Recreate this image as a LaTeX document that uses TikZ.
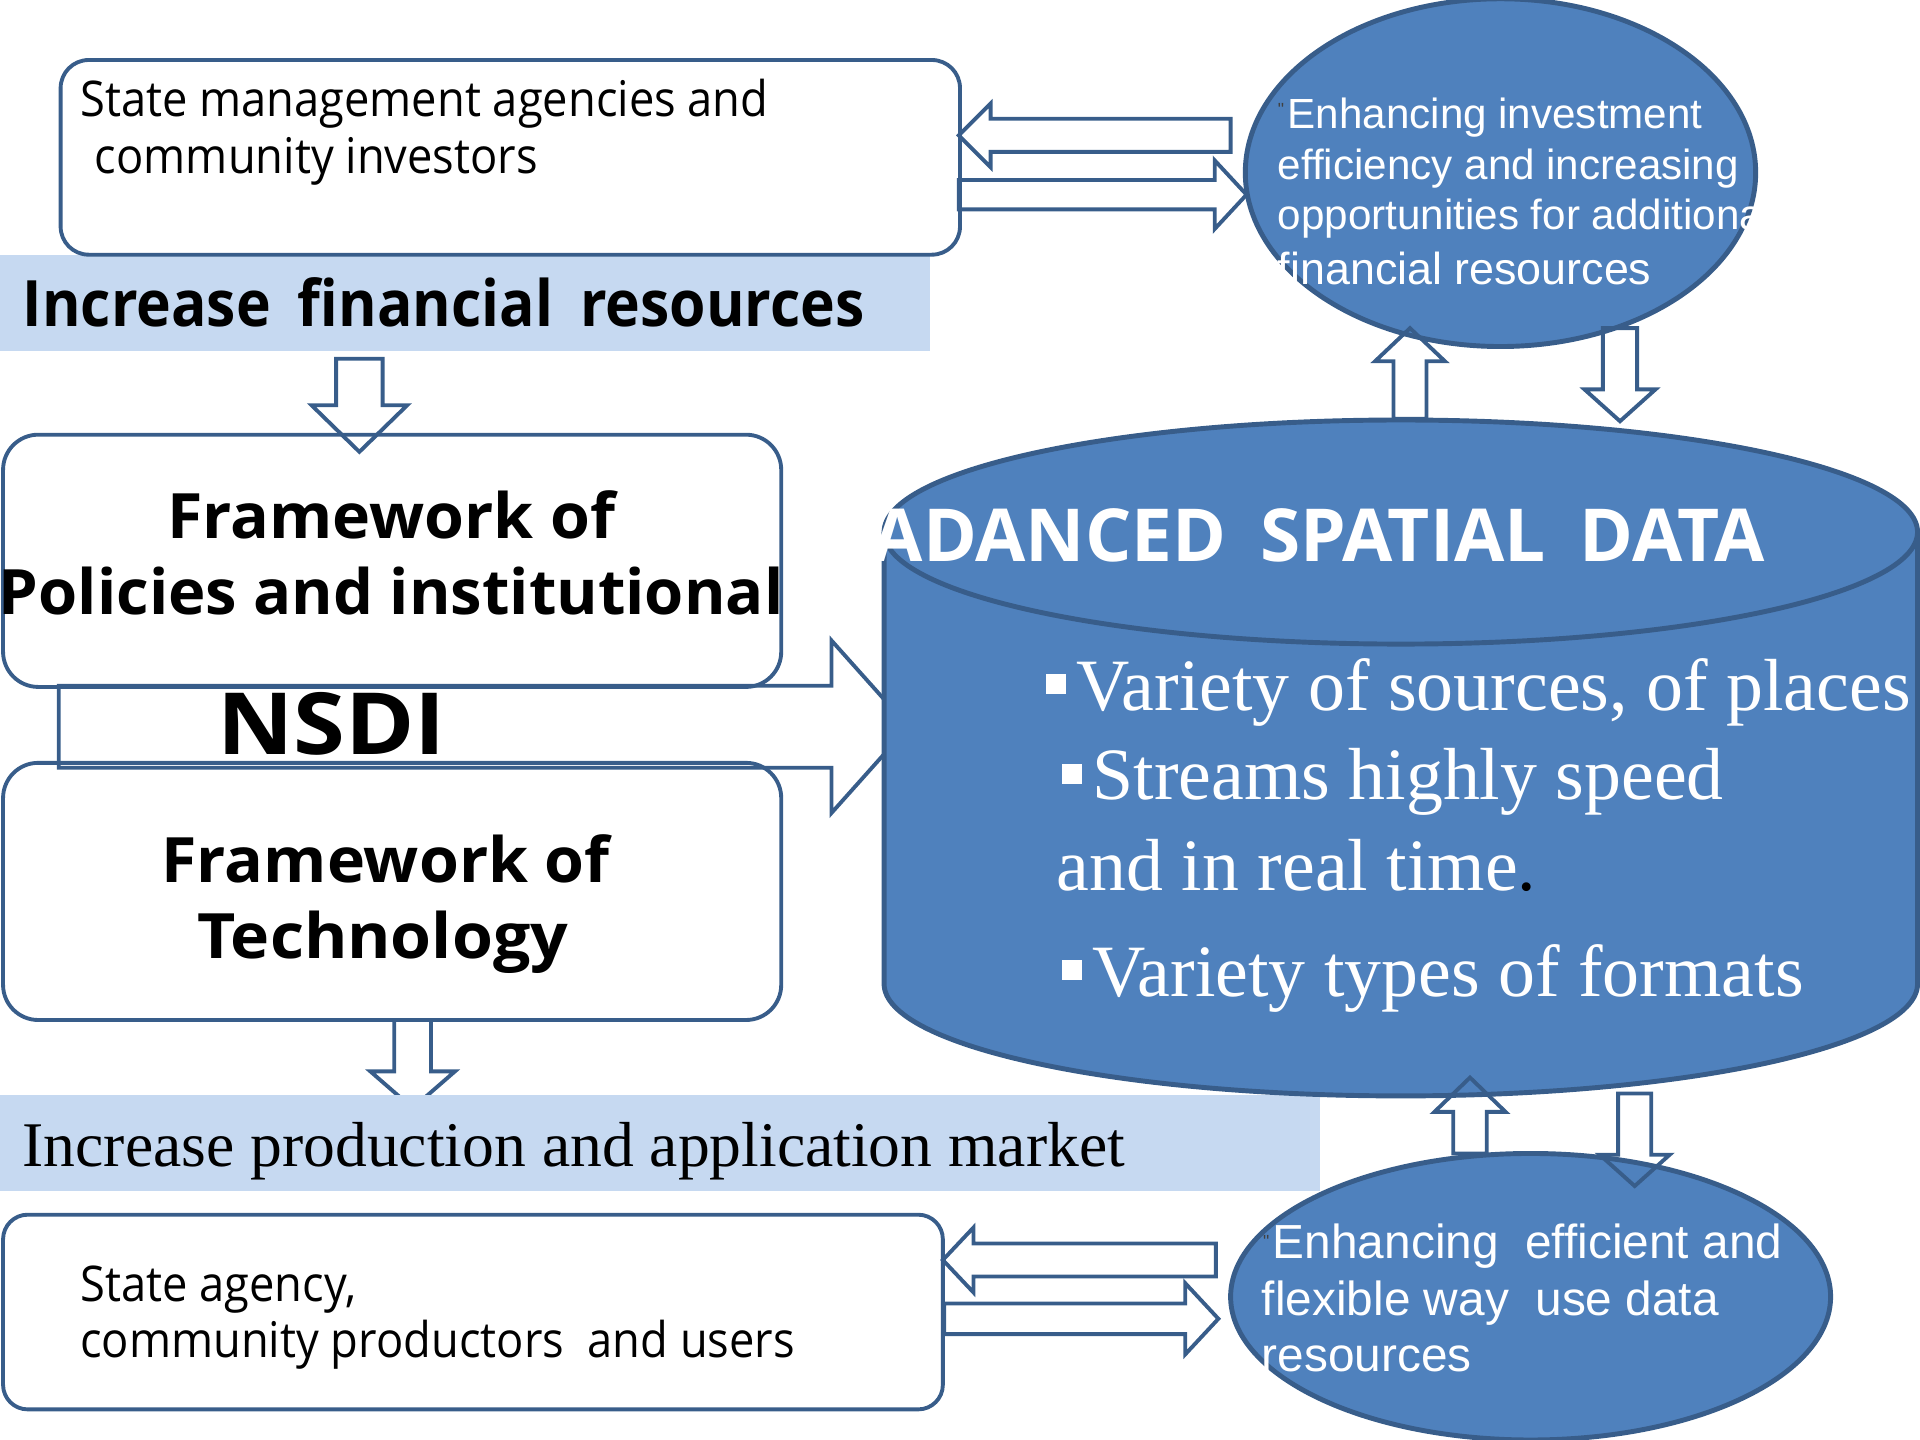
\documentclass[tikz,border=0pt]{standalone}
\usepackage{graphicx}
\usepackage{fontspec}
\setmainfont{Liberation Serif}
\newfontfamily\gothicfont[FakeStretch=0.92]{Open Sans}
\newfontfamily\arialfont{Liberation Sans}
\usetikzlibrary{calc,fit,shapes.geometric}

\definecolor{shapeblue}{HTML}{4F81BD}
\definecolor{edgeblue}{HTML}{385D8A}
\definecolor{bandblue}{HTML}{C6D9F1}

\def\upx{0.348401pt}
% hollow block arrow: tail, tip, half shaft, half head, head length
\newcommand{\blockarrow}[5]{%
  \path ($(#2)!#5*\upx!(#1)$) coordinate (hb);
  \draw[barrow] ($(#1)!#3*\upx!90:(#2)$) -- ($(hb)!#3*\upx!90:(#2)$)
    -- ($(hb)!#4*\upx!90:(#2)$) -- (#2) -- ($(hb)!#4*\upx!-90:(#2)$)
    -- ($(hb)!#3*\upx!-90:(#2)$) -- ($(#1)!#3*\upx!-90:(#2)$) -- cycle;}
\newcommand{\sqbullet}{\rule[4.5pt]{5.7pt}{5.7pt}\hspace{2.9pt}}
\newcommand{\widen}[2]{\scalebox{#1}[1]{#2}}

\begin{document}
\begin{tikzpicture}[x=\upx,y=-\upx,
    box/.style={draw=edgeblue,line width=1.1pt,fill=white,rounded corners=#1,inner sep=0pt},
    box/.default=8pt,
    band/.style={fill=bandblue,inner sep=0pt},
    ell/.style={ellipse,draw=edgeblue,fill=shapeblue,line width=1.4pt,inner sep=0pt},
    cyl/.style={draw=edgeblue,fill=shapeblue,line width=1.4pt},
    barrow/.style={draw=edgeblue,line width=1.1pt,line join=miter},
    txt/.style={inner sep=0pt,anchor=base west},
    plain/.style={txt,font=\gothicfont\fontsize{14}{17}\selectfont},
    bigbold/.style={txt,font=\gothicfont\bfseries\fontsize{18.2}{22}\selectfont},
    framehead/.style={inner sep=0pt,anchor=base,font=\gothicfont\bfseries\fontsize{17.8}{21}\selectfont},
    ovaltext/.style={txt,text=white,font=\arialfont\fontsize{12}{14}\selectfont},
    usetext/.style={ovaltext,font=\arialfont\fontsize{13.6}{16}\selectfont},
    datatext/.style={txt,text=white,font=\fontsize{21}{25}\selectfont},
    quotemark/.style={txt,text=black!75,font=\arialfont\fontsize{5}{5}\selectfont}]

  \useasboundingbox (0,0) rectangle (1568,1176);

  % left column
  \node[band, fit={(0,208) (759.5,287)}] (finband) {};
  \node[box=8pt, fit={(49.5,49) (784,208)}] (agencies) {};
  \node[box=10pt, fit={(2.5,355) (638,561)}] (policies) {};
  \node[box=10pt, fit={(2.5,623) (638,833)}] (technology) {};

  \coordinate (fin-out) at (293.5,293);
  \coordinate (pol-in)  at (293.5,369);
  \blockarrow{fin-out}{pol-in}{19}{39}{38}
  \coordinate (nsdi-tail) at (48,593.5);
  \coordinate (nsdi-tip)  at (742,593.5);
  \blockarrow{nsdi-tail}{nsdi-tip}{33.5}{70.5}{63}
  \coordinate (tech-out) at (337,833);
  \coordinate (mkt-in)   at (337,905);
  \blockarrow{tech-out}{mkt-in}{15}{34.5}{30}

  \node[band, fit={(0,894) (1078,973)}] (mktband) {};
  \node[box=7pt, fit={(2.5,992) (770,1151)}] (users) {};

  % spatial data store
  \draw[cyl] (722,434.5) -- (722,803.5)
    arc[start angle=180,end angle=0,x radius=422,y radius=91.5] -- (1566,434.5);
  \draw[cyl] (1144,434.5) ellipse [x radius=422,y radius=91.5];

  \node[ell, minimum width=416.8*\upx, minimum height=284*\upx] (invest) at (1225.4,141) {};
  \node[ell, minimum width=490*\upx, minimum height=234*\upx] (useway) at (1250,1059) {};

  \coordinate (inv-w1) at (1005,110.5);
  \coordinate (ag-e1)  at (783,110.5);
  \blockarrow{inv-w1}{ag-e1}{13.5}{26}{26}
  \coordinate (ag-e2)  at (783,159);
  \coordinate (inv-w2) at (1018,159);
  \blockarrow{ag-e2}{inv-w2}{12}{28}{26}
  \coordinate (cyl-n1) at (1151.5,342);
  \coordinate (inv-s1) at (1151.5,268);
  \blockarrow{cyl-n1}{inv-s1}{13.5}{28.5}{27}
  \coordinate (inv-s2) at (1323,268);
  \coordinate (cyl-n2) at (1323,344);
  \blockarrow{inv-s2}{cyl-n2}{14}{29}{26}
  \coordinate (use-n1) at (1200.5,942);
  \coordinate (cyl-s1) at (1200.5,880);
  \blockarrow{use-n1}{cyl-s1}{13.7}{29}{28}
  \coordinate (cyl-s2) at (1335,893);
  \coordinate (use-n2) at (1335,968.6);
  \blockarrow{cyl-s2}{use-n2}{13.5}{28.6}{25.6}
  \coordinate (use-w1) at (993,1029);
  \coordinate (us-e1)  at (770,1029);
  \blockarrow{use-w1}{us-e1}{13.5}{26.5}{25}
  \coordinate (us-e2)  at (771,1077);
  \coordinate (use-w2) at (995,1077);
  \blockarrow{us-e2}{use-w2}{12.5}{29}{27}

  % labels
  \node[plain] (agencies-1) at (65,95.3) {State management agencies and};
  \node[plain] (agencies-2) at (77,141.5) {community investors};
  \node[bigbold] (finband-t) at (18,266.8) {Increase\hspace{0.42em}financial\hspace{0.42em}resources};
  \node[framehead] (policies-1) at (319.5,439.5) {\widen{1.12}{Framework of}};
  \node[framehead] (policies-2) at (319.5,501.5) {\widen{1.1}{Policies and institutional}};
  \node[txt,font=\gothicfont\bfseries\fontsize{24.4}{28}\selectfont] (nsdi) at (177,615.9) {\widen{1.19}{NSDI}};
  \node[framehead] (technology-1) at (315,721) {\widen{1.12}{Framework of}};
  \node[framehead] (technology-2) at (312.5,783) {\widen{1.15}{Technology}};
  \node[txt,font=\fontsize{18.1}{21}\selectfont] (mktband-t) at (18,952.8) {Increase production and application market};
  \node[plain] (users-1) at (65,1063) {State agency,};
  \node[plain] (users-2) at (65,1109) {community productors~~and users};

  \node[quotemark] (invest-q) at (1043,94) {"};
  \node[ovaltext] (invest-1) at (1051,104.8) {Enhancing investment};
  \node[ovaltext] (invest-2) at (1043,147) {efficiency and increasing};
  \node[ovaltext] (invest-3) at (1043,187.8) {opportunities for additional};
  \node[ovaltext,font=\arialfont\fontsize{12.75}{15}\selectfont] (invest-4) at (1043,232.7) {financial resources};

  \node[quotemark] (useway-q) at (1031,1019) {"};
  \node[usetext] (useway-1) at (1039,1027.6) {Enhancing~~efficient and};
  \node[usetext] (useway-2) at (1030,1074) {flexible way~~use data};
  \node[usetext] (useway-3) at (1030,1120) {resources};

  \node[txt,anchor=base east,text=white,font=\gothicfont\bfseries\fontsize{20.8}{24}\selectfont] (store-t) at (1442,458.6) {\widen{1.084}{ADANCED\hspace{0.43em}SPATIAL\hspace{0.43em}DATA}};
  \node[datatext] (store-1) at (854,580) {\sqbullet Variety of sources, of places};
  \node[datatext] (store-2) at (867,653) {\sqbullet Streams highly speed};
  \node[datatext] (store-3) at (862.5,727) {and in real time{\color{black}.}};
  \node[datatext] (store-4) at (867,813.5) {\sqbullet Variety types of formats};
\end{tikzpicture}
\end{document}
